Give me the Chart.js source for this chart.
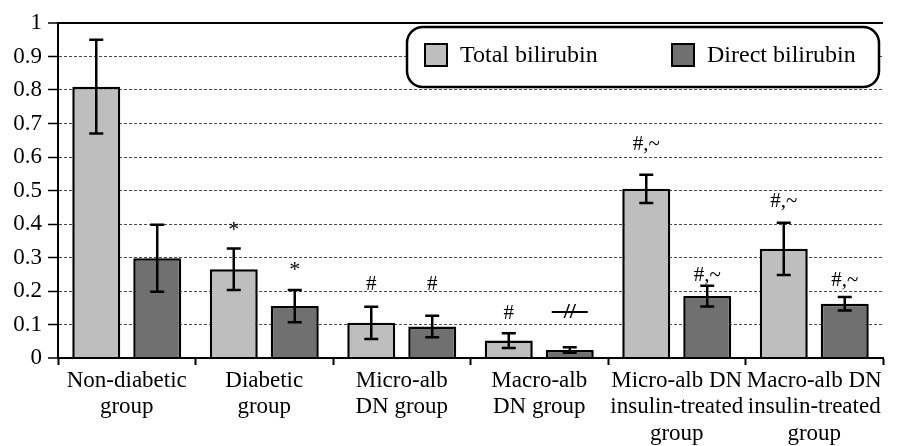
<!DOCTYPE html>
<html>
<head>
<meta charset="utf-8">
<title>Bilirubin by group</title>
<script src="https://cdn.jsdelivr.net/npm/chart.js@4.4.1/dist/chart.umd.min.js"></script>
<style>
  html, body { margin: 0; padding: 0; background: #fff; }
</style>
</head>
<body>
<canvas id="bili-chart" width="898" height="446"></canvas>
<script>
// ============================================
// DATA
// ============================================
const groups = [
    ['Non-diabetic', 'group'],
    ['Diabetic', 'group'],
    ['Micro-alb', 'DN group'],
    ['Macro-alb', 'DN group'],
    ['Micro-alb DN', 'insulin-treated', 'group'],
    ['Macro-alb DN', 'insulin-treated', 'group']
];

const totalBilirubin = [0.81, 0.265, 0.105, 0.052, 0.505, 0.326];
const totalError     = [0.14, 0.062, 0.048, 0.022, 0.042, 0.078];
const directBilirubin = [0.298, 0.155, 0.094, 0.024, 0.185, 0.162];
const directError     = [0.10, 0.048, 0.032, 0.008, 0.031, 0.020];

// significance marks and the level (in axis units) they sit at
const totalMarks  = ['', '*', '#', '#', '#,~', '#,~'];
const totalMarkAt = [0, 0.397, 0.218, 0.134, 0.636, 0.466];
const directMarks  = ['', '*', '#', '//', '#,~', '#,~'];
const directMarkAt = [0, 0.278, 0.218, 0.137, 0.245, 0.232];

const yTicks = [0, 0.1, 0.2, 0.3, 0.4, 0.5, 0.6, 0.7, 0.8, 0.9, 1];

const SERIF = '"Liberation Serif", "DejaVu Serif", serif';

// ============================================
// PLUGINS
// ============================================
const errorBarPlugin = {
    id: 'errorBars',
    afterDatasetsDraw(chart) {
        const { ctx } = chart;
        const y = chart.scales.y;
        ctx.save();
        ctx.strokeStyle = '#000';
        ctx.lineWidth = 2.5;
        chart.data.datasets.forEach((ds, di) => {
            const meta = chart.getDatasetMeta(di);
            meta.data.forEach((bar, i) => {
                const v = ds.data[i];
                const e = ds.errors[i];
                const yTop = y.getPixelForValue(v + e);
                const yBot = y.getPixelForValue(v - e);
                const half = 7;
                ctx.beginPath();
                ctx.moveTo(bar.x, yTop);
                ctx.lineTo(bar.x, yBot);
                ctx.moveTo(bar.x - half, yTop);
                ctx.lineTo(bar.x + half, yTop);
                ctx.moveTo(bar.x - half, yBot);
                ctx.lineTo(bar.x + half, yBot);
                ctx.stroke();
            });
        });
        ctx.restore();
    }
};

const markPlugin = {
    id: 'sigMarks',
    afterDatasetsDraw(chart) {
        const { ctx } = chart;
        const y = chart.scales.y;
        ctx.save();
        ctx.fillStyle = '#000';
        ctx.textAlign = 'center';
        ctx.textBaseline = 'middle';
        chart.data.datasets.forEach((ds, di) => {
            const meta = chart.getDatasetMeta(di);
            meta.data.forEach((bar, i) => {
                const txt = ds.marks[i];
                if (!txt) return;
                const py = y.getPixelForValue(ds.markAt[i]);
                if (txt === '*') {
                    ctx.font = '22px ' + SERIF;
                    ctx.fillText(txt, bar.x, py + 5);
                } else if (txt === '//') {
                    ctx.font = 'bold 22px ' + SERIF;
                    ctx.fillText(txt, bar.x, py);
                    ctx.lineWidth = 2;
                    ctx.strokeStyle = '#000';
                    ctx.beginPath();
                    ctx.moveTo(bar.x - 18, py);
                    ctx.lineTo(bar.x + 18, py);
                    ctx.stroke();
                } else {
                    ctx.font = '21px ' + SERIF;
                    ctx.fillText(txt, bar.x, py);
                }
            });
        });
        ctx.restore();
    }
};

const boxLegendPlugin = {
    id: 'boxLegend',
    afterDatasetsDraw(chart) {
        const { ctx, chartArea } = chart;
        const w = 472, h = 60;
        const x0 = chartArea.right - w - 4;
        const y0 = chartArea.top + 4;
        ctx.save();
        ctx.beginPath();
        ctx.roundRect(x0, y0, w, h, 16);
        ctx.fillStyle = '#fff';
        ctx.fill();
        ctx.lineWidth = 2.5;
        ctx.strokeStyle = '#000';
        ctx.stroke();

        const offsets = [18, 265];
        ctx.font = '24px ' + SERIF;
        ctx.textBaseline = 'middle';
        ctx.textAlign = 'left';
        chart.data.datasets.forEach((ds, di) => {
            const sx = x0 + offsets[di];
            const sy = y0 + 17;
            ctx.fillStyle = ds.backgroundColor;
            ctx.fillRect(sx, sy, 22, 22);
            ctx.lineWidth = 2;
            ctx.strokeStyle = '#000';
            ctx.strokeRect(sx, sy, 22, 22);
            ctx.fillStyle = '#000';
            ctx.fillText(ds.label, sx + 35, sy + 12);
        });
        ctx.restore();
    }
};

// ============================================
// CHART
// ============================================
const isEdge = (ctx) => ctx.tick && (ctx.tick.value === 0 || ctx.tick.value === 1);

new Chart(document.getElementById('bili-chart'), {
    type: 'bar',
    data: {
        labels: groups,
        datasets: [
            {
                label: 'Total bilirubin',
                data: totalBilirubin,
                errors: totalError,
                marks: totalMarks,
                markAt: totalMarkAt,
                backgroundColor: '#bebebe',
                borderColor: '#000',
                borderWidth: 2.5,
                categoryPercentage: 0.887,
                barPercentage: 0.787
            },
            {
                label: 'Direct bilirubin',
                data: directBilirubin,
                errors: directError,
                marks: directMarks,
                markAt: directMarkAt,
                backgroundColor: '#707070',
                borderColor: '#000',
                borderWidth: 2.5,
                categoryPercentage: 0.887,
                barPercentage: 0.787
            }
        ]
    },
    options: {
        responsive: false,
        animation: false,
        devicePixelRatio: 1,
        layout: {
            padding: { top: 23, right: 15, left: 0, bottom: 0 }
        },
        plugins: {
            legend: { display: false },
            tooltip: { enabled: false },
            title: { display: false }
        },
        scales: {
            x: {
                afterFit: (s) => { s.height = 88; },
                grid: {
                    offset: true,
                    drawOnChartArea: false,
                    tickLength: 7,
                    tickColor: '#000',
                    tickWidth: 2
                },
                border: { display: true, color: '#000', width: 2 },
                ticks: {
                    color: '#000',
                    padding: 2,
                    maxRotation: 0,
                    autoSkip: false,
                    font: { family: SERIF, size: 23, lineHeight: 1.17 }
                }
            },
            y: {
                min: 0,
                max: 1,
                afterFit: (s) => { s.width = 58; },
                afterBuildTicks: (s) => { s.ticks = yTicks.map(v => ({ value: v })); },
                grid: {
                    color: (ctx) => isEdge(ctx) ? '#000' : '#4a4a4a',
                    lineWidth: (ctx) => isEdge(ctx) ? 2 : 1,
                    tickLength: 10,
                    tickColor: '#000',
                    tickWidth: 1.5,
                    tickBorderDash: []
                },
                border: {
                    display: true,
                    color: '#000',
                    width: 2,
                    dash: (ctx) => isEdge(ctx) ? [] : [3, 2]
                },
                ticks: {
                    color: '#000',
                    padding: 6,
                    font: { family: SERIF, size: 23 },
                    callback: (v) => String(v)
                }
            }
        }
    },
    plugins: [errorBarPlugin, markPlugin, boxLegendPlugin]
});
</script>
</body>
</html>
